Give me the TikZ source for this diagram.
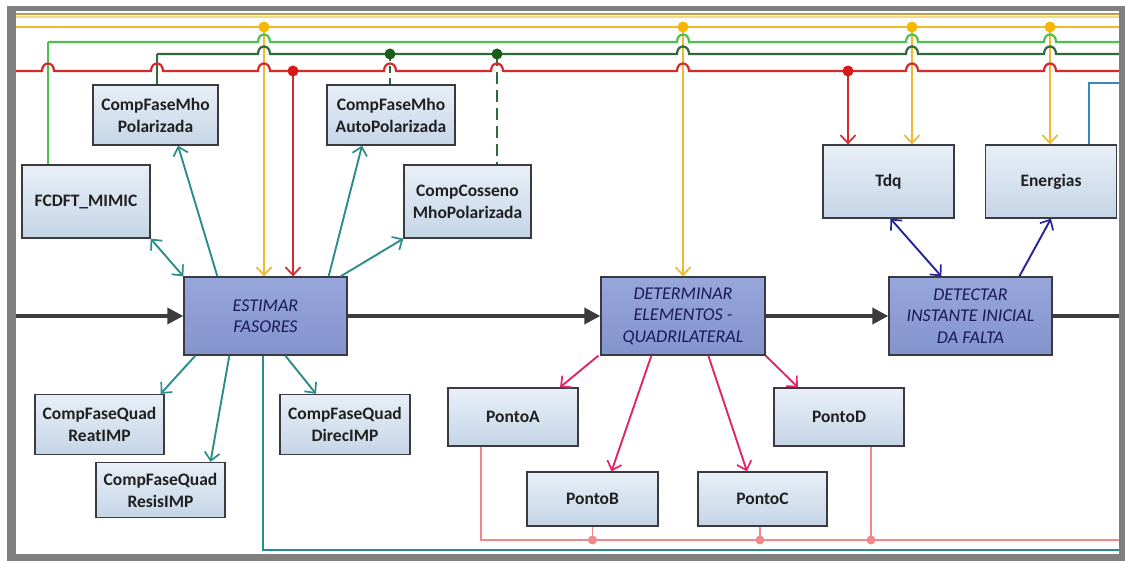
\documentclass[tikz,border=0pt]{standalone}
\usepackage{fontspec}
\setmainfont{Carlito}
\usetikzlibrary{arrows.meta}

\definecolor{framegrey}{HTML}{808080}
\definecolor{topbrown}{HTML}{C89A4A}
\definecolor{paleyel}{HTML}{F3DC86}
\definecolor{busorange}{HTML}{F2B830}
\definecolor{dotorange}{HTML}{F5B800}
\definecolor{busgreen}{HTML}{4EC04E}
\definecolor{busdkgreen}{HTML}{2F6B3A}
\definecolor{dotdkgreen}{HTML}{1A5C1A}
\definecolor{busred}{HTML}{D42A2A}
\definecolor{dotred}{HTML}{D81818}
\definecolor{tealc}{HTML}{2B8C8C}
\definecolor{pinkc}{HTML}{E0256A}
\definecolor{navyc}{HTML}{24239A}
\definecolor{salmonc}{HTML}{F08A8A}
\definecolor{bluec}{HTML}{3A88C0}
\definecolor{mainline}{HTML}{3C3C3C}
\definecolor{boxline}{HTML}{3A3A40}
\definecolor{boxtop}{HTML}{E8EFF7}
\definecolor{boxbot}{HTML}{C5D5E7}
\definecolor{maintop}{HTML}{97A6DB}
\definecolor{mainbot}{HTML}{8393CC}
\definecolor{boxtext}{HTML}{202020}
\definecolor{maintext}{HTML}{1A1A55}

\tikzset{
  sbox/.style={draw=boxline, line width=1.3pt, top color=boxtop, bottom color=boxbot,
    inner sep=0pt, align=center, text=boxtext,
    font=\fontsize{17.5}{22}\selectfont\bfseries},
  mbox/.style={draw=boxline, line width=1.3pt, top color=maintop, bottom color=mainbot,
    inner sep=0pt, align=center, text=maintext,
    font=\fontsize{18}{21.5}\selectfont\itshape},
  bus/.style={line width=2.2pt},
  barb/.style={-{Straight Barb[length=8pt,width=15pt,line width=1.7pt]}},
  dbarb/.style={{Straight Barb[length=8pt,width=15pt,line width=1.7pt]}-{Straight Barb[length=8pt,width=15pt,line width=1.7pt]}},
  flow/.style={line width=3.4pt, draw=mainline, -{Triangle[length=16pt,width=16pt]}},
  tap/.style={radius=5.5pt},
}

\begin{document}
\begin{tikzpicture}[x=1pt,y=-1pt]
\useasboundingbox (0,0) rectangle (1125,561);

% outer frame
\fill[framegrey] (7,6) rectangle (1125,561);
\fill[white] (16,11) rectangle (1119,554);

% ---------- blocks ----------
\node[sbox, minimum width=125pt, minimum height=60pt] (cfmP) at (155.5,115) {CompFaseMho\\Polarizada};
\node[sbox, minimum width=128pt, minimum height=73pt] (fcdft) at (86,201.5) {FCDFT\_MIMIC};
\node[sbox, minimum width=128pt, minimum height=60pt] (cfmA) at (391,115) {CompFaseMho\\AutoPolarizada};
\node[sbox, minimum width=127pt, minimum height=73pt] (ccos) at (467.5,201.5) {CompCosseno\\MhoPolarizada};
\node[mbox, minimum width=163pt, minimum height=78pt] (estimar) at (265.5,316) {ESTIMAR\\FASORES};
\node[sbox, minimum width=129pt, minimum height=60pt] (reat) at (99.5,424.5) {CompFaseQuad\\ReatIMP};
\node[sbox, minimum width=129pt, minimum height=55pt] (resis) at (160.5,490) {CompFaseQuad\\ResisIMP};
\node[sbox, minimum width=130pt, minimum height=60pt] (direc) at (345,424.5) {CompFaseQuad\\DirecIMP};
\node[mbox, minimum width=164pt, minimum height=78pt] (determ) at (683,316) {DETERMINAR\\ELEMENTOS -\\QUADRILATERAL};
\node[sbox, minimum width=130pt, minimum height=58pt] (pA) at (513,417) {PontoA};
\node[sbox, minimum width=131pt, minimum height=54pt] (pB) at (592.5,499) {PontoB};
\node[sbox, minimum width=129pt, minimum height=54pt] (pC) at (762.5,499) {PontoC};
\node[sbox, minimum width=130pt, minimum height=58pt] (pD) at (839,417) {PontoD};
\node[mbox, minimum width=163pt, minimum height=78pt] (detect) at (970.5,316) {DETECTAR\\INSTANTE INICIAL\\DA FALTA};
\node[sbox, minimum width=131pt, minimum height=73pt] (tdq) at (888.5,181.5) {Tdq};
\node[sbox, minimum width=131pt, minimum height=73pt] (energ) at (1051,181.5) {Energias};

% ---------- bus end points ----------
\coordinate (topL1) at (16,14);   \coordinate (topR1) at (1119,14);
\coordinate (topL2) at (16,17);   \coordinate (topR2) at (1119,17);
\coordinate (orL) at (16,27);     \coordinate (orR) at (1119,27);
\coordinate (grC) at (48,42);     \coordinate (grR) at (1119,42);
\coordinate (dgC) at (157,54);    \coordinate (dgR) at (1119,54);
\coordinate (rdL) at (16,71);     \coordinate (rdR) at (1119,71);
% taps
\coordinate (oA) at (264,27);  \coordinate (oB) at (683,27);
\coordinate (oC) at (912,27);  \coordinate (oD) at (1050,27);
\coordinate (rA) at (293,71);  \coordinate (rB) at (848,71);
\coordinate (gA) at (390,54);  \coordinate (gB) at (497,54);

% ---------- vertical feeds from the buses ----------
\draw[bus, busgreen] ([xshift=-38pt]fcdft.north) -- (grC);
\draw[bus, busdkgreen] ([xshift=1.5pt]cfmP.north) -- (dgC);
\draw[bus, busdkgreen, dash pattern=on 7pt off 5pt] (gA) -- (gA |- cfmA.north);
\draw[bus, busdkgreen, dash pattern=on 12pt off 6pt] (gB) -- (gB |- ccos.north);
\draw[bus, busorange, barb] (oA) -- (oA |- estimar.north);
\draw[bus, busorange, barb] (oB) -- (oB |- determ.north);
\draw[bus, busorange, barb] (oC) -- (oC |- tdq.north);
\draw[bus, busorange, barb] (oD) -- (oD |- energ.north);
\draw[bus, busred, barb] (rA) -- (rA |- estimar.north);
\draw[bus, busred, barb] (rB) -- (rB |- tdq.north);

% ---------- horizontal buses, hopping over crossing feeds ----------
\draw[line width=1.6pt, topbrown] (topL1) -- (topR1);
\draw[line width=1.6pt, paleyel] (topL2) -- (topR2);
\draw[bus, busorange] (orL) -- (orR);
\draw[bus, busgreen] (grC)
  \foreach \h in {264,683,912,1050}{ -- (\h-6,42) .. controls (\h-6,32) and (\h+6,32) .. (\h+6,42)} -- (grR);
\draw[bus, busdkgreen] (dgC)
  \foreach \h in {264,683,912,1050}{ -- (\h-6,54) .. controls (\h-6,44) and (\h+6,44) .. (\h+6,54)} -- (dgR);
\draw[bus, busred] (rdL)
  \foreach \h in {48,157,264,390,497,683,912,1050}{ -- (\h-6,71) .. controls (\h-6,61) and (\h+6,61) .. (\h+6,71)} -- (rdR);

% tap dots
\foreach \p in {oA,oB,oC,oD} \fill[dotorange] (\p) circle[tap];
\foreach \p in {rA,rB} \fill[dotred] (\p) circle[tap];
\foreach \p in {gA,gB} \fill[dotdkgreen] (\p) circle[tap];

% ---------- blue feed on the right ----------
\coordinate (blR) at (1119,83);
\draw[line width=2pt, bluec] ([xshift=38pt]energ.north) |- (blR);

% ---------- main flow ----------
\coordinate (inL) at (16,316);
\coordinate (outR) at (1119,316);
\draw[flow] (inL) -- (estimar.west);
\draw[flow] (estimar.east) -- (determ.west);
\draw[flow] (determ.east) -- (detect.west);
\draw[line width=3.4pt, mainline] (detect.east) -- (outR);

% ---------- phasor comparators ----------
\begin{scope}[tealc, line width=1.9pt]
\draw[dbarb] (estimar.north west) -- (fcdft.south east);
\draw[barb] ([xshift=34pt]estimar.north west) -- ([xshift=22.5pt]cfmP.south);
\draw[barb] ([xshift=-19pt]estimar.north east) -- ([xshift=-29pt]cfmA.south);
\draw[barb] ([xshift=-7pt]estimar.north east) -- (ccos.south west);
\draw[barb] ([xshift=12pt]estimar.south west) -- ([xshift=-4pt]reat.north east);
\draw[barb] ([xshift=46pt]estimar.south west) -- ([xshift=50pt]resis.north);
\draw[barb] ([xshift=102pt]estimar.south west) -- ([xshift=-29pt]direc.north);
\coordinate (tlR) at (1119,550);
\draw ([xshift=80pt]estimar.south west) |- (tlR);
\end{scope}

% ---------- quadrilateral points ----------
\begin{scope}[pinkc, line width=1.9pt]
\draw[barb] ([xshift=-2pt]determ.south west) -- ([xshift=47pt]pA.north);
\draw[barb] ([xshift=51pt]determ.south west) -- ([xshift=19pt]pB.north);
\draw[barb] ([xshift=108pt]determ.south west) -- ([xshift=-15.5pt]pC.north);
\draw[barb] (determ.south east) -- ([xshift=-41pt]pD.north);
\end{scope}

\begin{scope}[salmonc, line width=1.2pt]
\coordinate (saR) at (1119,540);
\draw ([xshift=-32pt]pA.south) |- (saR);
\draw (pB.south) -- (pB.south |- saR);
\draw ([xshift=-2.5pt]pC.south) -- ([xshift=-2.5pt]pC.south |- saR);
\draw ([xshift=32pt]pD.south) -- ([xshift=32pt]pD.south |- saR);
\fill (pB.south |- saR) circle[radius=4.5pt];
\fill ([xshift=-2.5pt]pC.south |- saR) circle[radius=4.5pt];
\fill ([xshift=32pt]pD.south |- saR) circle[radius=4.5pt];
\end{scope}

% ---------- fault instant detection ----------
\begin{scope}[navyc, line width=1.9pt]
\draw[dbarb] ([xshift=53pt]detect.north west) -- ([xshift=2pt]tdq.south);
\draw[barb] ([xshift=131pt]detect.north west) -- (energ.south);
\end{scope}

\end{tikzpicture}
\end{document}
